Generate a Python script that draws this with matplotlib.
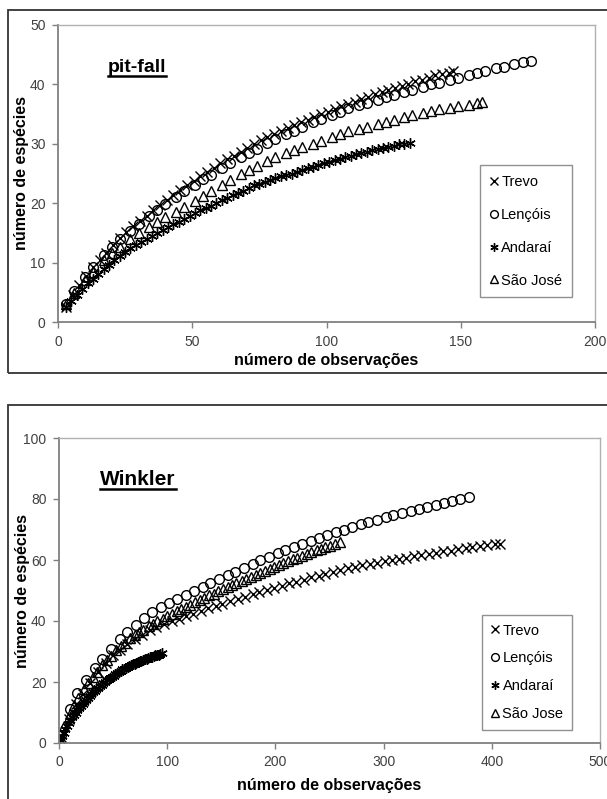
import matplotlib
matplotlib.use("Agg")
import matplotlib.pyplot as plt
from matplotlib.patches import Rectangle
from matplotlib.lines import Line2D

plt.rcParams['font.family'] = ['Liberation Sans', 'DejaVu Sans']

# ---- pit-fall data ----
pf_trevo_x = [3, 5.5, 8, 10.5, 13, 15.5, 18, 20.5, 23, 25.5, 28, 30.5, 33, 35.5, 38, 40.5, 43, 45.5, 48, 50.5,
              53, 55.5, 58, 60.5, 63, 65.5, 68, 70.5, 73, 75.5, 78, 80.5, 83, 85.5, 88, 90.5, 93, 95.5, 98, 100.5,
              103, 105.5, 108, 110.5, 113, 115.5, 118, 120.5, 123, 125.5, 128, 130.5, 133, 135.5, 138, 140.5, 143, 145.5, 147]
pf_trevo_y = [2.5, 4.5, 6.3, 7.8, 9.2, 10.5, 11.7, 12.9, 14.1, 15.1, 16.1, 17.0, 17.9, 18.8, 19.7, 20.5, 21.4, 22.2, 23.0, 23.8,
              24.6, 25.3, 26.0, 26.7, 27.4, 28.0, 28.7, 29.3, 30.0, 30.6, 31.1, 31.6, 32.1, 32.6, 33.1, 33.6, 34.0, 34.5, 35.0, 35.4,
              35.9, 36.3, 36.7, 37.1, 37.5, 37.9, 38.3, 38.7, 39.0, 39.4, 39.8, 40.1, 40.5, 40.8, 41.1, 41.5, 41.8, 42.0, 42.2]

pf_lencois_x = [3, 6, 10, 13, 17, 20, 23, 27, 30, 34, 37, 40, 44, 47, 51, 54, 57, 61, 64, 68, 71, 74, 78, 81, 85, 88,
                91, 95, 98, 102, 105, 108, 112, 115, 119, 122, 125, 129, 132, 136, 139, 142, 146, 149, 153, 156, 159,
                163, 166, 170, 173, 176]
pf_lencois_y = [3.0, 5.2, 7.6, 9.2, 11.3, 12.6, 13.9, 15.4, 16.5, 17.9, 18.9, 19.9, 21.1, 22.0, 23.1, 24.0, 24.8, 25.9,
                26.7, 27.7, 28.5, 29.2, 30.1, 30.8, 31.6, 32.2, 32.8, 33.6, 34.1, 34.9, 35.4, 36.0, 36.5, 36.9, 37.4,
                37.8, 38.2, 38.7, 39.1, 39.6, 40.0, 40.3, 40.8, 41.1, 41.6, 41.9, 42.3, 42.7, 43.0, 43.4, 43.7, 44.0]

pf_andarai_x = [3, 5, 7, 9, 11, 13, 15, 17, 19, 21, 23, 25, 27, 29, 31, 33, 35, 37, 39, 41, 43, 45, 47, 49, 51, 53, 55,
                57, 59, 61, 63, 65, 67, 69, 71, 73, 75, 77, 79, 81, 83, 85, 87, 89, 91, 93, 95, 97, 99, 101, 103, 105,
                107, 109, 111, 113, 115, 117, 119, 121, 123, 125, 127, 129, 131]
pf_andarai_y = [2.5, 3.6, 4.6, 5.6, 6.5, 7.3, 8.1, 8.9, 9.6, 10.4, 11.1, 11.8, 12.4, 12.9, 13.5, 14.0, 14.5, 15.0, 15.5,
                16.0, 16.5, 16.9, 17.4, 17.9, 18.3, 18.8, 19.2, 19.6, 20.0, 20.5, 20.9, 21.3, 21.7, 22.1, 22.5, 23.0,
                23.3, 23.6, 23.9, 24.2, 24.5, 24.8, 25.0, 25.3, 25.6, 25.9, 26.1, 26.4, 26.7, 26.9, 27.2, 27.5, 27.7,
                28.0, 28.2, 28.5, 28.7, 28.9, 29.1, 29.3, 29.5, 29.7, 29.9, 30.0, 30.2]

pf_saojose_x = [3, 6, 10, 13, 17, 20, 23, 27, 30, 34, 37, 40, 44, 47, 51, 54, 57, 61, 64, 68, 71, 74, 78, 81, 85, 88,
                91, 95, 98, 102, 105, 108, 112, 115, 119, 122, 125, 129, 132, 136, 139, 142, 146, 149, 153, 156, 158]
pf_saojose_y = [3.0, 4.8, 7.0, 8.5, 10.4, 11.7, 12.7, 14.0, 14.9, 16.0, 16.8, 17.6, 18.6, 19.4, 20.4, 21.2, 22.0, 23.1,
                23.9, 24.9, 25.6, 26.3, 27.1, 27.7, 28.4, 28.9, 29.4, 30.0, 30.5, 31.1, 31.6, 32.1, 32.5, 32.9, 33.3,
                33.7, 34.0, 34.5, 34.8, 35.2, 35.5, 35.8, 36.1, 36.3, 36.6, 36.8, 37.0]

# ---- Winkler data ----
wk_trevo_x = [2, 9, 16, 22, 29, 36, 43, 50, 56, 63, 70, 77, 84, 90, 97, 104, 111, 117, 124, 131, 138, 145, 151, 158,
              165, 172, 179, 185, 192, 199, 206, 213, 219, 226, 233, 240, 246, 253, 260, 267, 274, 280, 287, 294, 301,
              308, 314, 321, 328, 335, 342, 348, 355, 362, 369, 376, 382, 389, 396, 403, 408]
wk_trevo_y = [2.0, 8.0, 12.8, 16.2, 19.8, 23.3, 26.2, 28.7, 30.5, 32.3, 34.0, 35.5, 36.9, 38.0, 39.1, 40.0, 40.8, 41.6,
              42.4, 43.2, 44.1, 44.9, 45.6, 46.4, 47.2, 48.0, 48.8, 49.5, 50.3, 50.9, 51.6, 52.3, 52.9, 53.6, 54.3,
              54.9, 55.5, 56.1, 56.7, 57.3, 57.8, 58.2, 58.7, 59.1, 59.6, 60.0, 60.4, 60.8, 61.2, 61.6, 62.0, 62.4,
              62.8, 63.1, 63.5, 63.8, 64.2, 64.5, 64.9, 65.1, 65.3]

wk_lencois_x = [2, 10, 17, 25, 33, 40, 48, 56, 63, 71, 79, 86, 94, 102, 109, 117, 125, 133, 140, 148, 156, 163, 171,
                179, 186, 194, 202, 209, 217, 225, 233, 240, 248, 256, 263, 271, 279, 286, 294, 302, 309, 317, 325,
                333, 340, 348, 356, 363, 371, 379]
wk_lencois_y = [2.5, 11.0, 16.5, 20.8, 24.6, 27.6, 30.9, 34.0, 36.4, 38.8, 41.0, 42.9, 44.5, 45.9, 47.2, 48.5, 49.9,
                51.3, 52.5, 53.8, 55.1, 56.2, 57.5, 58.8, 59.9, 61.1, 62.3, 63.3, 64.3, 65.3, 66.3, 67.2, 68.2, 69.1,
                69.9, 70.8, 71.7, 72.4, 73.2, 74.0, 74.7, 75.4, 76.1, 76.8, 77.4, 78.0, 78.7, 79.3, 79.9, 80.5]

wk_andarai_x = [1, 2.6, 4.2, 5.8, 7.4, 9, 10.6, 12.2, 13.8, 15.4, 17, 18.6, 20.2, 21.8, 23.4, 25, 26.6, 28.2, 29.8,
                31.4, 33, 34.6, 36.2, 37.8, 39.4, 41, 42.6, 44.2, 45.8, 47.4, 49, 50.6, 52.2, 53.8, 55.4, 57, 58.6,
                60.2, 61.8, 63.4, 65, 66.6, 68.2, 69.8, 71.4, 73, 74.6, 76.2, 77.8, 79.4, 81, 82.6, 84.2, 85.8, 87.4,
                89, 90.6, 92.2, 93.8, 95.4]
wk_andarai_y = [1.0, 2.3, 3.4, 4.5, 5.6, 6.6, 7.6, 8.5, 9.3, 10.0, 10.7, 11.4, 12.1, 12.8, 13.4, 14.1, 14.8, 15.4,
                16.0, 16.6, 17.1, 17.6, 18.1, 18.6, 19.1, 19.6, 20.0, 20.5, 20.9, 21.3, 21.7, 22.1, 22.5, 22.9, 23.3,
                23.7, 24.1, 24.4, 24.7, 25.0, 25.3, 25.5, 25.8, 26.0, 26.3, 26.5, 26.8, 27.0, 27.2, 27.5, 27.7, 27.9,
                28.1, 28.3, 28.5, 28.7, 28.9, 29.0, 29.2, 29.4]

wk_saojose_x = [1, 5, 10, 14, 18, 23, 27, 31, 35, 40, 44, 48, 53, 57, 61, 66, 70, 74, 78, 83, 87, 91, 96, 100, 104,
                109, 113, 117, 121, 126, 130, 134, 139, 143, 147, 152, 156, 160, 164, 169, 173, 177, 182, 186, 190,
                195, 199, 203, 207, 212, 216, 220, 225, 229, 233, 238, 242, 246, 250, 255, 260]
wk_saojose_y = [1.0, 5.5, 9.5, 12.3, 14.8, 17.6, 19.7, 21.6, 23.4, 25.5, 27.1, 28.6, 30.4, 31.7, 32.9, 34.3, 35.3,
                36.3, 37.2, 38.3, 39.1, 39.9, 40.8, 41.6, 42.3, 43.2, 43.9, 44.6, 45.3, 46.1, 46.8, 47.5, 48.4, 49.0,
                49.7, 50.5, 51.2, 51.8, 52.4, 53.2, 53.8, 54.4, 55.2, 55.8, 56.4, 57.2, 57.7, 58.3, 58.9, 59.6, 60.2,
                60.7, 61.4, 62.0, 62.5, 63.2, 63.7, 64.2, 64.7, 65.3, 65.8]

names_pf = ['Trevo', 'Lençóis', 'Andaraí', 'São José']
names_wk = ['Trevo', 'Lençóis', 'Andaraí', 'São Jose']

W, H = 607, 799
fig = plt.figure(figsize=(W / 100, H / 100), dpi=100)

# outer frames of the two charts
fig.add_artist(Rectangle((8 / W, 1 - 373 / H), 1.2, (373 - 10) / H, transform=fig.transFigure,
                         fill=False, edgecolor='#333333', lw=1.3, clip_on=False))
fig.add_artist(Rectangle((8 / W, -0.2), 1.2, 0.2 + 1 - 405 / H, transform=fig.transFigure,
                         fill=False, edgecolor='#333333', lw=1.3, clip_on=False))

ax1 = fig.add_axes([58 / W, 1 - 322 / H, (595 - 58) / W, (322 - 25) / H])
ax2 = fig.add_axes([59 / W, 1 - 743 / H, (600 - 59) / W, (743 - 438) / H])


def style(ax, xmax, ymax, xstep, ystep, xpad):
    ax.set_xlim(0, xmax)
    ax.set_ylim(0, ymax)
    ax.set_xticks(range(0, xmax + 1, xstep))
    ax.set_yticks(range(0, ymax + 1, ystep))
    for s in ['top', 'right']:
        ax.spines[s].set_color('#b0b0b0')
        ax.spines[s].set_linewidth(1.0)
    for s in ['left', 'bottom']:
        ax.spines[s].set_color('#808080')
        ax.spines[s].set_linewidth(1.3)
    ax.tick_params(direction='out', length=4, width=1.0, color='#808080',
                   labelcolor='#404040', labelsize=10, pad=5)
    ax.set_xlabel('número de observações', fontsize=11.5, fontweight='bold', labelpad=xpad)
    ax.set_ylabel('número de espécies', fontsize=11.5, fontweight='bold')
    ax.yaxis.set_label_coords(-0.054, 0.5)


def draw(ax, series, names):
    mk = [dict(marker='x', ms=7, mew=1.0),
          dict(marker='o', ms=7, mew=1.0, mfc='none'),
          dict(marker=(6, 2, 0), ms=7.5, mew=1.0),
          dict(marker='^', ms=7.5, mew=1.0, mfc='none')]
    for (x, y), name, m in zip(series, names, mk):
        ax.plot(x, y, ls='none', color='black', label=name, **m)


draw(ax1, [(pf_trevo_x, pf_trevo_y), (pf_lencois_x, pf_lencois_y),
           (pf_andarai_x, pf_andarai_y), (pf_saojose_x, pf_saojose_y)], names_pf)
draw(ax2, [(wk_trevo_x, wk_trevo_y), (wk_lencois_x, wk_lencois_y),
           (wk_andarai_x, wk_andarai_y), (wk_saojose_x, wk_saojose_y)], names_wk)

style(ax1, 200, 50, 50, 10, 3)
style(ax2, 500, 100, 100, 20, 6)

leg1 = ax1.legend(loc='lower left', bbox_to_anchor=(0.786, 0.084), fontsize=10.5, labelspacing=1.3,
                  handlelength=0.6, handletextpad=0.2, borderpad=0.65, markerscale=0.8,
                  fancybox=False, framealpha=1, edgecolor='#909090', borderaxespad=0)
leg2 = ax2.legend(loc='lower left', bbox_to_anchor=(0.782, 0.043), fontsize=10.5, labelspacing=0.95,
                  handlelength=0.6, handletextpad=0.2, borderpad=0.6, markerscale=0.8,
                  fancybox=False, framealpha=1, edgecolor='#909090', borderaxespad=0)
for leg in (leg1, leg2):
    leg.get_frame().set_linewidth(1.0)

t1 = ax1.text(0.093, 0.842, 'pit-fall', transform=ax1.transAxes, fontsize=14, fontweight='bold',
              va='baseline', ha='left')
t2 = ax2.text(0.076, 0.846, 'Winkler', transform=ax2.transAxes, fontsize=15, fontweight='bold',
              va='baseline', ha='left')

# underline the two titles
fig.canvas.draw()
r = fig.canvas.get_renderer()
for ax, t, (bx, by) in [(ax1, t1, (0.093, 0.842)), (ax2, t2, (0.076, 0.846))]:
    bb = t.get_window_extent(r)
    base = ax.transAxes.transform((bx, by))[1]
    inv = ax.transAxes.inverted()
    (x0, y0) = inv.transform((bb.x0, base - 4))
    (x1, _) = inv.transform((bb.x1, base - 4))
    ax.add_line(Line2D([x0, x1], [y0, y0], transform=ax.transAxes, color='black', lw=1.8, clip_on=False))

fig.savefig('out.png', dpi=100)
